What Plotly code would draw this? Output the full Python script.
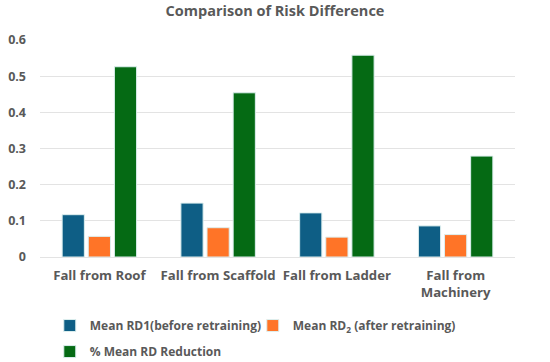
import plotly.graph_objects as go

categories = ["Fall from Roof", "Fall from Scaffold", "Fall from Ladder", "Fall from<br>Machinery"]
rd1_before = [0.117, 0.149, 0.122, 0.086]
rd2_after = [0.057, 0.081, 0.055, 0.062]
pct_reduction = [0.526, 0.454, 0.558, 0.279]
series_names = ["Mean RD1(before retraining)", "Mean RD<sub>2</sub> (after retraining)", "% Mean RD Reduction"]
colors = ["#0E5E85", "#FF7427", "#056A14"]
legend_ids = ["legend", "legend", "legend2"]
y_ticks = [0, 0.1, 0.2, 0.3, 0.4, 0.5, 0.6]
y_tick_text = ["0", "0.1", "0.2", "0.3", "0.4", "0.5", "0.6"]

FONT = "Open Sans"
GRAY = "#595959"

fig = go.Figure()
for name, vals, col, lg in zip(series_names, [rd1_before, rd2_after, pct_reduction], colors, legend_ids):
    fig.add_trace(go.Bar(
        x=categories, y=vals, name=name, legend=lg,
        marker=dict(color=col, line=dict(color="#DDEFEF", width=1)),
    ))

legend_font = dict(family=FONT, size=12, color=GRAY, weight="bold")
fig.update_layout(
    width=550, height=362,
    margin=dict(l=40, r=35, t=40, b=105, autoexpand=False),
    paper_bgcolor="white", plot_bgcolor="white",
    barmode="group", bargap=0.34, bargroupgap=0.15,
    title=dict(text="Comparison of Risk Difference", x=0.5, xanchor="center",
               y=1 - 6/362, yanchor="top", yref="container", automargin=False,
               font=dict(family=FONT, size=14.5, color=GRAY, weight="bold")),
    font=dict(family=FONT, color=GRAY),
    showlegend=True,
    legend=dict(orientation="h", x=0.0206, xanchor="left", y=-0.249, yanchor="top",
                font=legend_font, itemwidth=30, traceorder="normal", entrywidth=158),
    legend2=dict(orientation="h", x=0.0206, xanchor="left", y=-0.369, yanchor="top",
                 font=legend_font, itemwidth=30),
    xaxis=dict(showline=False, ticks="", automargin=False, ticklabelstandoff=9, tickangle=0,
               tickfont=dict(family=FONT, size=13.2, color=GRAY, weight="bold")),
    yaxis=dict(range=[0, 0.6], tickvals=y_ticks, ticktext=y_tick_text, automargin=False,
               showgrid=True, gridcolor="#E3E3E3", gridwidth=1, zeroline=True,
               zerolinecolor="#E3E3E3", zerolinewidth=1, ticks="", ticklabelstandoff=13,
               tickfont=dict(family=FONT, size=12.5, color=GRAY, weight="bold")),
)

fig.write_html("out.html", config={"displayModeBar": False},
               post_script="document.body.style.margin='0';")
